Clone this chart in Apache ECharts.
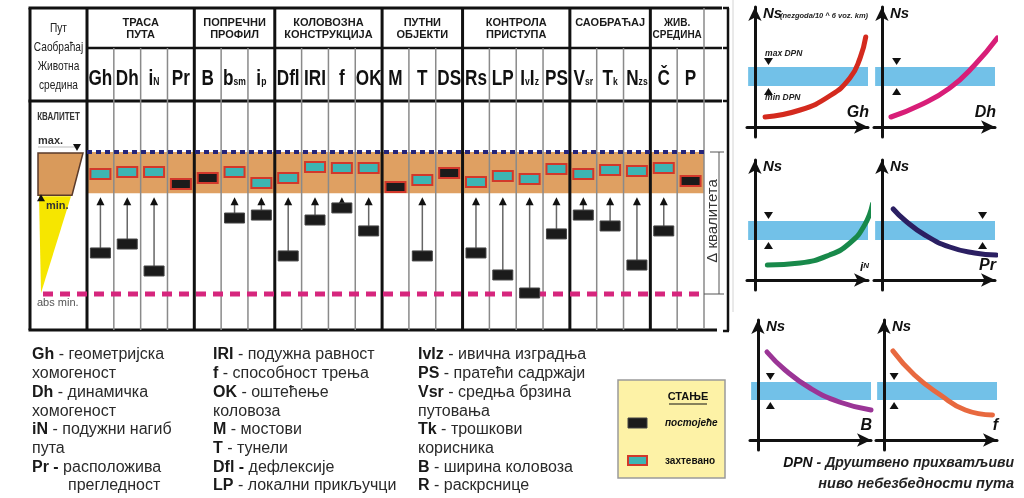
<!DOCTYPE html>
<html><head><meta charset="utf-8">
<script src="https://cdn.jsdelivr.net/npm/echarts@6.0.0/dist/echarts.min.js"></script>
<style>html,body{margin:0;padding:0;background:#fff}#c{width:1024px;height:498px}</style>
</head><body><div id="c"></div>
<script>
// ---------------- DATA ----------------
const categories = ['Gh','Dh','iN','Pr','B','bsm','ip','Dfl','IRI','f','OK','M','T','DS','Rs','LP','IvIz','PS','Vsr','Tk','Nzs','Č','P'];
const groupNames = ['ТРАСА\nПУТА','ПОПРЕЧНИ\nПРОФИЛ','КОЛОВОЗНА\nКОНСТРУКЦИЈА','ПУТНИ\nОБЈЕКТИ','КОНТРОЛА\nПРИСТУПА','САОБРАЋАЈ','ЖИВ.\nСРЕДИНА'];
const groupSpans = [4,3,4,3,4,3,2];
// quality scale: abs min = 0, min = 71, max = 100
const MAX_Q = 100, MIN_Q = 71, ABS_MIN_Q = 0;
// required (захтевано) quality, null where existing already satisfies
const required = [84.5,85.9,85.9,null,null,85.9,78.2,81.7,89.4,88.7,88.7,null,80.3,null,78.9,83.1,81.0,88.0,84.5,87.3,86.6,88.7,null];
// existing (постојеће) quality
const existing = [28.9,35.2,16.2,77.5,81.7,53.5,55.6,26.8,52.1,60.6,44.4,75.4,26.8,85.2,28.9,13.4,0.7,42.3,55.6,47.9,20.4,44.4,79.6];

// Ns curves (x, Ns) for the six small diagrams
const curveNames = ['Gh','Dh','iN','Pr','B','f'];
const curveGh = [[0.9,1.0],[4.0,1.7],[6.6,3.1],[8.4,4.9],[9.3,6.9],[9.8,9.0]];
const curveDh = [[0.8,1.0],[3.4,2.2],[6.0,3.9],[8.2,6.2],[10.2,8.9]];
const curveIN = [[1.1,1.5],[4.0,1.7],[6.6,2.5],[8.4,3.7],[9.7,5.5],[10.4,7.6]];
const curvePr = [[1.0,7.1],[2.0,6.0],[3.8,4.5],[6.0,3.3],[8.2,2.7],[10.1,2.5]];
const curveB  = [[0.8,8.8],[2.4,7.0],[4.6,5.2],[7.2,3.8],[10.0,3.0]];
const curveF  = [[0.8,8.9],[2.7,6.5],[5.0,4.5],[7.2,3.0],[9.6,2.5]];
const dpnLow  = [4.1,4.1,4.0,4.0,4.0,4.0];
const dpnHigh = [6.0,6.0,5.9,5.9,5.8,5.8];
const triX    = [1.2,1.3,1.2,8.9,1.1,0.9];

const legendCol1 = [['Gh',' - геометријска'],['','хомогеност'],['Dh',' - динамичка'],['','хомогеност'],['iN',' - подужни нагиб'],['','пута'],['Pr -',' расположива'],['','прегледност']];
const legendCol2 = [['IRI',' - подужна равност'],['f',' - способност трења'],['OK',' - оштећење'],['','коловоза'],['M',' - мостови'],['T',' - тунели'],['Dfl -',' дефлексије'],['LP',' - локални прикључци']];
const legendCol3 = [['IvIz',' - ивична изградња'],['PS',' - пратећи садржаји'],['Vsr',' - средња брзина'],['','путовања'],['Tk',' - трошкови'],['','корисника'],['B',' - ширина коловоза'],['R',' - раскрснице']];

// ---------------- STYLE / LAYOUT ----------------
const SANS = "'Liberation Sans',Arial,sans-serif";
const curves = [curveGh,curveDh,curveIN,curvePr,curveB,curveF];
const curveColors = ['#d42a1e','#d81e78','#18894a','#2b1f62','#9b3596','#e8693f'];
const panels = [{left:747,top:7},{left:874,top:7},{left:747,top:160},{left:874,top:160},{left:750,top:320},{left:876,top:320}];
const PW = 121, PH = 130;
const subs = {iN:['i','N'],bsm:['b','sm'],ip:['i','p'],Vsr:['V','sr'],Tk:['T','k'],Nzs:['N','zs']};
function symLabel(c){
  if (c === 'IvIz') return '{m|I}{s|v}{m|I}{s|z}';
  if (subs[c]) return '{m|'+subs[c][0]+'}{s|'+subs[c][1]+'}';
  return '{m|'+c+'}';
}

const chart = echarts.init(document.getElementById('c'), null, {width:1024, height:498});

const grids = [{left:87, right:320, top:152, bottom:204, outerBoundsMode:'none'}]
  .concat(panels.map(p => ({left:p.left, top:p.top, width:PW, height:PH, outerBoundsMode:'none'})));

const xAxes = [{
  gridIndex:0, type:'category', data:categories, position:'top', boundaryGap:true,
  axisLine:{show:false}, axisTick:{show:false}, splitLine:{show:false}, axisLabel:{show:false}
}].concat(panels.map((p,k) => ({
  gridIndex:k+1, type:'value', min:-0.7, max:10, z:6,
  axisLine:{show:true, onZero:true, symbol:['none','arrow'], symbolSize:[10,14], lineStyle:{color:'#111', width:3}},
  axisTick:{show:false}, axisLabel:{show:false}, splitLine:{show:false}
})));
const yAxes = [{gridIndex:0, type:'value', min:ABS_MIN_Q, max:MAX_Q, show:false}]
  .concat(panels.map((p,k) => ({
    gridIndex:k+1, type:'value', min:-1, max:12, z:6,
    axisLine:{show:true, onZero:true, symbol:['none','arrow'], symbolSize:[10,14], lineStyle:{color:'#111', width:3}},
    axisTick:{show:false}, axisLabel:{show:false}, splitLine:{show:false}
  })));

function boxRender(fill, stroke, lw){
  return function(params, api){
    const p = api.coord([api.value(0), api.value(1)]);
    return {type:'rect', shape:{x:p[0]-10, y:p[1]-5, width:20, height:10}, style:{fill:fill, stroke:stroke, lineWidth:lw}};
  };
}
function gapRender(params, api){
  const i = api.value(0), v = api.value(1);
  const p = api.coord([i, v]);
  const tip = api.coord([i, MIN_Q])[1] + 4;
  const boxTop = p[1] - 5;
  const ch = [];
  if (boxTop > tip + 8) ch.push({type:'line', shape:{x1:p[0], y1:tip+7, x2:p[0], y2:boxTop}, style:{stroke:'#666', lineWidth:1.5}});
  ch.push({type:'polygon', shape:{points:[[p[0],tip],[p[0]-4,tip+8],[p[0]+4,tip+8]]}, style:{fill:'#111'}});
  ch.push({type:'rect', shape:{x:p[0]-10, y:p[1]-5, width:20, height:10}, style:{fill:'#1b1b1b', stroke:'#444', lineWidth:1}});
  return {type:'group', children:ch};
}

const reqData = required.map((v,i) => v == null ? null : [i, v]).filter(Boolean);
const inBand = existing.map((v,i) => v >= MIN_Q ? [i, v] : null).filter(Boolean);
const below = existing.map((v,i) => v < MIN_Q ? [i, v] : null).filter(Boolean);

const series = [
  {type:'custom', xAxisIndex:0, yAxisIndex:0, z:5, clip:false, data:reqData, renderItem:boxRender('#3db5b3','#d2382b',2),
   markArea:{silent:true, z:1, itemStyle:{color:'#dfa062'}, data:[[{yAxis:MIN_Q},{yAxis:MAX_Q}]]}},
  {type:'custom', xAxisIndex:0, yAxisIndex:0, z:5, clip:false, data:inBand, renderItem:boxRender('#1b1b1b','#d2382b',2)},
  {type:'custom', xAxisIndex:0, yAxisIndex:0, z:5, clip:false, data:below, renderItem:gapRender}
].concat(curves.map((c,k) => ({
  type:'line', xAxisIndex:k+1, yAxisIndex:k+1, data:c, smooth:0.5, symbol:'none', clip:false, z:4,
  lineStyle:{color:curveColors[k], width:5, cap:'round'},
  markArea:{silent:true, itemStyle:{color:'#72c1e8'}, data:[[{xAxis:-0.6, yAxis:dpnLow[k]},{xAxis:10.2, yAxis:dpnHigh[k]}]]},
  markPoint:{silent:true, label:{show:false}, itemStyle:{color:'#111'}, data:[
    {coord:[triX[k], dpnHigh[k]+0.55], symbol:'triangle', symbolRotate:180, symbolSize:[9,7]},
    {coord:[triX[k], dpnLow[k]-0.55], symbol:'triangle', symbolSize:[9,7]}
  ]}
})));

chart.setOption({animation:false, backgroundColor:'#fff', grid:grids, xAxis:xAxes, yAxis:yAxes, series:series});

// ---------------- STRUCTURE (table, labels) ----------------
const toPx = (i, v) => chart.convertToPixel({gridIndex:0}, [i, v]);
const c0 = toPx(0, 0)[0], c1 = toPx(1, 0)[0];
const colW = c1 - c0;
const xB = i => c0 - colW/2 + i*colW;
const yMax = toPx(0, MAX_Q)[1], yMin = toPx(0, MIN_Q)[1], yAbs = toPx(0, ABS_MIN_Q)[1];
const TOP = 8, ROW1 = 48, ROW2 = 101, BOT = 330, LEFT = 30;
const g = [];
const L = (x1,y1,x2,y2,stroke,w,z,dash) => g.push({type:'line', z:z||3, shape:{x1,y1,x2,y2}, style:{stroke, lineWidth:w, lineDash:dash||null}});
const T = (x,y,text,opt) => {
  opt = opt || {};
  const st = Object.assign({text:text, align:'left', verticalAlign:'middle', fill:'#1a1a1a', fontFamily:SANS, fontSize:12}, opt);
  delete st.sx; delete st.rotation; delete st.z;
  g.push({type:'text', z:opt.z||6, x:x, y:y, rotation:opt.rotation||0, scaleX:opt.sx||1, style:st});
};

// horizontal table lines
L(LEFT-1.5, TOP, 722, TOP, '#111', 3);
L(xB(0), ROW1, 722, ROW1, '#111', 2.5);
L(LEFT-1.5, ROW2, 722, ROW2, '#111', 3);
L(LEFT-1.5, BOT, 717, BOT, '#111', 3);
L(LEFT, TOP, LEFT, BOT, '#111', 3);
// vertical column lines
const cum = [0]; groupSpans.forEach(s => cum.push(cum[cum.length-1] + s));
for (let i = 0; i <= categories.length; i++) {
  const x = xB(i);
  if (i < categories.length && cum.indexOf(i) >= 0) L(x, TOP, x, BOT, '#111', 3, 4);
  else if (i === categories.length) L(x, TOP, x, BOT-2, '#8a8a8a', 1.5);
  else L(x, ROW1, x, BOT, '#8a8a8a', 1.5);
}
// right bracket
L(728, TOP, 728, BOT+1, '#111', 2.5);
[TOP, ROW1, ROW2, BOT+1].forEach(y => L(723, y, 729, y, '#111', 2.5));
// faint separator
L(733, 0, 733, 312, '#d4d4d4', 1);
// group headers
for (let k = 0; k < groupNames.length; k++) {
  const cx = xB(cum[k]) + groupSpans[k]*colW/2;
  T(cx, 17, groupNames[k], {align:'center', verticalAlign:'top', fontWeight:'bold', fontSize: groupSpans[k] === 2 ? 10 : 11, lineHeight:12});
}
// category symbols (condensed bold)
categories.forEach((c, i) => {
  T(toPx(i, 0)[0], 77, symLabel(c), {align:'center', sx:0.78, rich:{
    m:{fontFamily:SANS, fontWeight:'bold', fontSize:22, fill:'#111', lineHeight:26, verticalAlign:'bottom'},
    s:{fontFamily:SANS, fontWeight:'bold', fontSize:11, fill:'#111', lineHeight:13, verticalAlign:'bottom', padding:[0,0,3,0]}
  }});
});
// left header cell
T((LEFT + xB(0))/2, 57, 'Пут\nСаобраћај\nЖивотна\nсредина', {align:'center', sx:0.78, fontSize:13, lineHeight:19, fill:'#222'});
// quality level lines
L(xB(0), yMax, xB(categories.length), yMax, '#25257a', 4, 4, [5,4]);
L(43, yAbs, xB(categories.length), yAbs, '#d6267d', 5, 4, [10,7]);
// left column legend of quality
T((LEFT + xB(0))/2, 117, 'КВАЛИТЕТ', {align:'center', sx:0.8, fontWeight:'bold', fontSize:10, fill:'#333'});
T(38, yMax-11, 'max.', {fontWeight:'bold', fontSize:11, fill:'#333'});
L(38, yMax-5, 75, yMax-5, '#bbb', 1);
g.push({type:'polygon', z:6, shape:{points:[[73,yMax-8],[81,yMax-8],[77,yMax-1]]}, style:{fill:'#111'}});
g.push({type:'polygon', z:5, shape:{points:[[38,yMax+1],[83,yMax+1],[72,yMin+2],[38,yMin+2]]}, style:{fill:'#d99a5b', stroke:'#5a3a2a', lineWidth:1.5}});
g.push({type:'polygon', z:4, shape:{points:[[39,yMin+3],[71,yMin+3],[41,yAbs-1]]}, style:{fill:'#f6e600'}});
g.push({type:'polygon', z:6, shape:{points:[[37,yMin+8],[45,yMin+8],[41,yMin+1]]}, style:{fill:'#111'}});
T(46, yMin+13, 'min.', {fontWeight:'bold', fontSize:11, fill:'#333'});
T(37, yAbs+9, 'abs min.', {fontSize:11, fill:'#555'});
// delta quality bracket
const xEnd = xB(categories.length);
L(719, yMax, 719, yAbs, '#555', 1);
L(710, yMax, 724, yMax, '#555', 1);
L(xEnd, yAbs, 724, yAbs, '#555', 1);
T(713, (yMax + yAbs)/2 - 2, 'Δ квалитета', {align:'center', rotation:Math.PI/2, fontSize:15, fill:'#333'});

// bottom legend
function legendCol(x, rows, indentLast){
  rows.forEach((r, i) => {
    const y = 355 + i*18.7;
    const xx = (indentLast && i === rows.length-1) ? x+36 : x;
    const txt = (r[0] ? '{k|'+r[0]+'}' : '') + '{d|'+r[1]+'}';
    T(xx, y, txt, {rich:{k:{fontFamily:SANS, fontWeight:'bold', fontSize:16, fill:'#1a1a1a'}, d:{fontFamily:SANS, fontSize:16, fill:'#2a2a2a'}}});
  });
}
legendCol(32, legendCol1, true);
legendCol(213, legendCol2, false);
legendCol(418, legendCol3, false);

// state legend box
g.push({type:'rect', z:5, shape:{x:618, y:380, width:107, height:98}, style:{fill:'#fdf2a6', stroke:'#9a9a9a', lineWidth:1.5}});
T(688, 397, 'СТАЊЕ', {align:'center', fontWeight:'bold', fontSize:11, fill:'#111'});
L(669, 404, 707, 404, '#111', 1, 6);
g.push({type:'rect', z:6, shape:{x:628, y:418, width:19, height:10}, style:{fill:'#1b1b1b', stroke:'#444', lineWidth:1}});
T(665, 423, 'постојеће', {fontStyle:'italic', fontWeight:'bold', fontSize:10, fill:'#111'});
g.push({type:'rect', z:6, shape:{x:628, y:456, width:19, height:9}, style:{fill:'#3db5b3', stroke:'#d2382b', lineWidth:2}});
T(665, 461, 'захтевано', {fontWeight:'bold', fontSize:10, fill:'#111'});

// small panel labels
panels.forEach((p, k) => {
  const ax = chart.convertToPixel({gridIndex:k+1}, [0, 0]);
  T(ax[0]+8, p.top+7, 'Ns', {fontWeight:'bold', fontStyle:'italic', fontSize:15, fill:'#111'});
  const lbl = curveNames[k] === 'iN' ? '{m|i}{s|N}' : '{m|'+curveNames[k]+'}';
  T(p.left+PW+1, ax[1]-15, lbl, {align:'right', rich:{
    m:{fontFamily:SANS, fontWeight:'bold', fontStyle:'italic', fontSize: curveNames[k]==='iN' ? 12 : 16, fill:'#111', verticalAlign:'bottom', lineHeight:18},
    s:{fontFamily:SANS, fontWeight:'bold', fontStyle:'italic', fontSize:8, fill:'#111', verticalAlign:'bottom', lineHeight:10, padding:[0,0,4,0]}}});
});
{
  const ax = chart.convertToPixel({gridIndex:1}, [0, 0]);
  T(ax[0]+25, panels[0].top+9, '(nezgoda/10 ^ 6 voz. km)', {fontWeight:'bold', fontStyle:'italic', fontSize:7.5, fill:'#222'});
  const hi = chart.convertToPixel({gridIndex:1}, [0.9, dpnHigh[0]+1.3]);
  const lo = chart.convertToPixel({gridIndex:1}, [0.9, dpnLow[0]-1.2]);
  T(hi[0], hi[1], 'max DPN', {fontWeight:'bold', fontStyle:'italic', fontSize:8.5, fill:'#222'});
  T(lo[0], lo[1], 'min DPN', {fontWeight:'bold', fontStyle:'italic', fontSize:8.5, fill:'#222'});
}
T(1014, 463, '{b|DPN}{d| - Друштвено прихватљиви}', {align:'right', rich:{b:{fontFamily:SANS, fontWeight:'bold', fontStyle:'italic', fontSize:14, fill:'#111'}, d:{fontFamily:SANS, fontWeight:'bold', fontStyle:'italic', fontSize:14, fill:'#222'}}});
T(1014, 484, 'ниво небезбедности пута', {align:'right', fontWeight:'bold', fontStyle:'italic', fontSize:14.5, fill:'#222'});

chart.setOption({graphic:{elements:g}});
</script></body></html>
